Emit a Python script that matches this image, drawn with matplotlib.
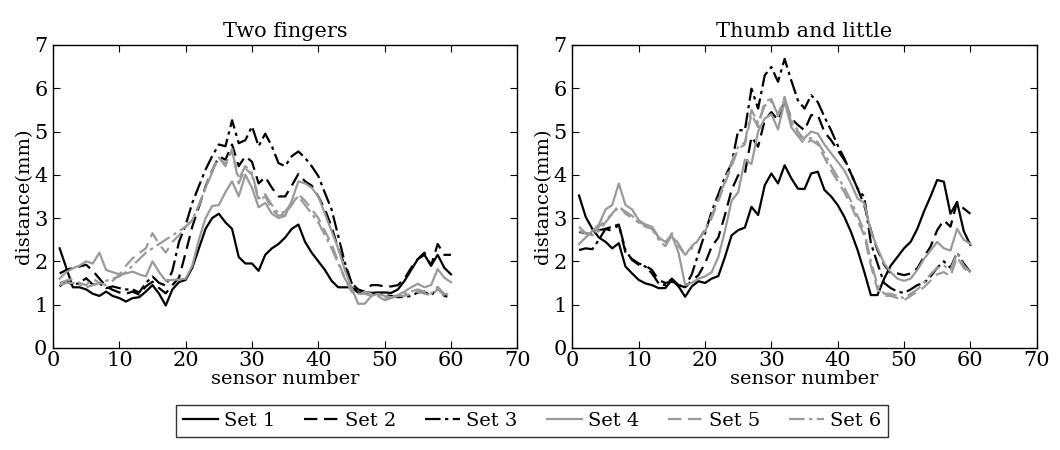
import numpy as np
import matplotlib
matplotlib.use('Agg')
import matplotlib.pyplot as plt

plt.rcParams['font.family'] = ['DejaVu Serif']
plt.rcParams['mathtext.fontset'] = 'dejavuserif'

sensor = np.arange(1, 61)

# Two fingers
two_set1 = [2.3, 1.85, 1.4, 1.4, 1.35, 1.25, 1.2, 1.3, 1.2, 1.15, 1.07, 1.15, 1.17, 1.3, 1.45, 1.25, 0.98, 1.35, 1.52, 1.57,
            1.85, 2.3, 2.75, 3.0, 3.1, 2.9, 2.75, 2.1, 1.95, 1.95, 1.78, 2.15, 2.3, 2.4, 2.55, 2.75, 2.85, 2.45, 2.2, 2.0,
            1.8, 1.55, 1.4, 1.4, 1.4, 1.28, 1.27, 1.27, 1.28, 1.28, 1.27, 1.35, 1.55, 1.8, 2.05, 2.15, 1.9, 2.15, 1.85, 1.7]
two_set2 = [1.72, 1.8, 1.85, 1.88, 1.92, 1.78, 1.6, 1.42, 1.34, 1.28, 1.25, 1.3, 1.23, 1.42, 1.53, 1.38, 1.26, 1.45, 1.62, 2.2,
            2.8, 3.26, 3.73, 4.1, 4.42, 4.35, 4.7, 4.2, 4.43, 4.3, 3.8, 3.95, 3.7, 3.5, 3.5, 3.75, 4.02, 3.85, 3.75, 3.5,
            3.2, 2.8, 2.3, 1.9, 1.5, 1.35, 1.3, 1.45, 1.45, 1.42, 1.42, 1.45, 1.6, 1.85, 2.05, 2.2, 1.9, 2.4, 2.15, 2.15]
two_set3 = [1.42, 1.55, 1.45, 1.5, 1.61, 1.46, 1.49, 1.38, 1.42, 1.38, 1.35, 1.35, 1.28, 1.5, 1.65, 1.5, 1.44, 1.78, 2.45, 2.84,
            3.35, 3.74, 4.12, 4.43, 4.7, 4.66, 5.26, 4.73, 4.8, 5.12, 4.66, 4.95, 4.66, 4.27, 4.2, 4.43, 4.54, 4.39, 4.2, 3.97,
            3.58, 3.2, 2.59, 1.97, 1.51, 1.28, 1.28, 1.27, 1.25, 1.22, 1.2, 1.17, 1.18, 1.2, 1.28, 1.3, 1.2, 1.4, 1.2, 1.17]
two_set4 = [1.6, 1.75, 1.84, 1.9, 2.0, 1.95, 2.2, 1.8, 1.75, 1.7, 1.72, 1.76, 1.7, 1.65, 2.0, 1.75, 1.55, 1.57, 1.58, 1.6,
            1.9, 2.5, 3.0, 3.28, 3.3, 3.6, 3.85, 3.5, 4.0, 3.7, 3.25, 3.35, 3.1, 3.0, 3.05, 3.4, 3.85, 3.8, 3.7, 3.5,
            3.1, 2.7, 2.3, 1.8, 1.4, 1.02, 1.02, 1.2, 1.25, 1.2, 1.17, 1.22, 1.3, 1.4, 1.48, 1.4, 1.45, 1.82, 1.62, 1.52]
two_set5 = [1.5, 1.55, 1.6, 1.5, 1.45, 1.6, 1.5, 1.45, 1.55, 1.69, 1.9, 2.07, 2.19, 2.3, 2.65, 2.4, 2.2, 2.45, 2.6, 2.8,
            2.95, 3.3, 3.7, 4.1, 4.4, 4.2, 4.6, 3.8, 4.15, 4.0, 3.4, 3.5, 3.2, 3.05, 3.1, 3.3, 3.55, 3.4, 3.2, 3.0,
            2.7, 2.4, 2.0, 1.6, 1.3, 1.2, 1.3, 1.25, 1.2, 1.1, 1.15, 1.2, 1.2, 1.25, 1.3, 1.25, 1.22, 1.35, 1.22, 1.22]
two_set6 = [1.45, 1.5, 1.5, 1.45, 1.4, 1.45, 1.5, 1.55, 1.6, 1.65, 1.75, 1.9, 2.05, 2.2, 2.3, 2.4, 2.5, 2.6, 2.7, 2.8,
            2.95, 3.3, 3.7, 4.05, 4.4, 4.25, 4.55, 3.9, 4.2, 4.05, 3.45, 3.55, 3.3, 3.1, 3.15, 3.35, 3.5, 3.3, 3.1, 2.9,
            2.6, 2.3, 1.95, 1.6, 1.35, 1.25, 1.25, 1.2, 1.2, 1.15, 1.15, 1.2, 1.25, 1.3, 1.35, 1.3, 1.25, 1.4, 1.25, 1.22]

# Thumb and little
thumb_set1 = [3.52, 3.03, 2.75, 2.55, 2.45, 2.3, 2.42, 1.88, 1.72, 1.57, 1.49, 1.45, 1.38, 1.38, 1.57, 1.42, 1.18, 1.42, 1.54, 1.5,
              1.6, 1.66, 2.1, 2.6, 2.72, 2.78, 3.26, 3.07, 3.76, 4.03, 3.8, 4.22, 3.92, 3.68, 3.67, 4.03, 4.07, 3.65, 3.5, 3.3,
              3.03, 2.68, 2.26, 1.76, 1.22, 1.22, 1.6, 1.9, 2.1, 2.3, 2.45, 2.75, 3.15, 3.5, 3.88, 3.84, 3.1, 3.37, 2.7, 2.38]
thumb_set2 = [2.68, 2.65, 2.62, 2.72, 2.75, 2.7, 2.85, 2.2, 2.05, 1.95, 1.9, 1.8, 1.57, 1.5, 1.53, 1.45, 1.4, 1.55, 1.68, 1.95,
              2.34, 2.55, 3.07, 3.65, 3.99, 4.03, 4.88, 4.65, 5.26, 5.45, 5.26, 5.72, 5.3, 5.15, 5.03, 5.38, 5.38, 4.99, 4.8, 4.57,
              4.34, 4.03, 3.68, 3.3, 2.72, 2.26, 1.92, 1.72, 1.72, 1.68, 1.72, 1.84, 2.1, 2.34, 2.72, 2.95, 2.8, 3.37, 3.22, 3.1]
thumb_set3 = [2.26, 2.3, 2.28, 2.5, 2.75, 2.8, 2.85, 2.26, 2.03, 1.92, 1.88, 1.72, 1.49, 1.45, 1.6, 1.45, 1.42, 1.7, 2.18, 2.65,
              3.15, 3.55, 3.95, 4.26, 5.03, 5.03, 5.99, 5.53, 6.3, 6.49, 6.15, 6.68, 6.18, 5.72, 5.53, 5.84, 5.68, 5.34, 5.03, 4.68,
              4.38, 4.03, 3.68, 3.49, 2.42, 1.95, 1.5, 1.38, 1.3, 1.27, 1.35, 1.45, 1.5, 1.65, 1.85, 2.0, 1.85, 2.2, 1.95, 1.75]
thumb_set4 = [2.4, 2.55, 2.7, 2.85, 3.2, 3.3, 3.8, 3.3, 3.2, 2.95, 2.85, 2.8, 2.55, 2.45, 2.6, 2.2, 1.45, 1.5, 1.6, 1.65,
              1.75, 2.1, 2.7, 3.4, 3.6, 4.35, 4.25, 5.0, 5.3, 5.4, 5.05, 5.7, 5.1, 4.9, 4.85, 5.0, 4.95, 4.7, 4.5, 4.3,
              4.1, 3.8, 3.45, 3.35, 2.7, 2.3, 1.95, 1.75, 1.6, 1.55, 1.6, 1.8, 2.05, 2.25, 2.45, 2.3, 2.25, 2.75, 2.5, 2.4]
thumb_set5 = [2.8, 2.65, 2.6, 2.8, 2.95, 3.1, 3.3, 3.1, 3.0, 2.9, 2.85, 2.8, 2.55, 2.4, 2.65, 2.4, 2.15, 2.35, 2.5, 2.7,
              3.0, 3.4, 3.8, 4.2, 4.6, 4.7, 5.4, 5.1, 5.7, 5.75, 5.35, 5.8, 5.2, 4.9, 4.7, 4.8, 4.7, 4.4, 4.1, 3.85,
              3.6, 3.3, 2.95, 2.6, 1.9, 1.35, 1.2, 1.2, 1.15, 1.1, 1.2, 1.3, 1.4, 1.55, 1.7, 1.75, 1.65, 2.1, 1.85, 1.7]
thumb_set6 = [2.7, 2.65, 2.6, 2.7, 2.9, 3.1, 3.25, 3.15, 3.05, 2.9, 2.8, 2.75, 2.5, 2.35, 2.6, 2.35, 2.15, 2.3, 2.5, 2.75,
              3.05, 3.45, 3.85, 4.3, 4.65, 4.75, 5.5, 5.2, 5.6, 5.7, 5.4, 5.75, 5.3, 5.0, 4.8, 4.85, 4.75, 4.5, 4.2, 3.95,
              3.7, 3.4, 3.05, 2.7, 2.0, 1.45, 1.25, 1.25, 1.2, 1.15, 1.25, 1.35, 1.5, 1.7, 1.85, 1.9, 1.8, 2.2, 1.9, 1.75]

titles = ['Two fingers', 'Thumb and little']
labels = ['Set 1', 'Set 2', 'Set 3', 'Set 4', 'Set 5', 'Set 6']
panels = [[two_set1, two_set2, two_set3, two_set4, two_set5, two_set6],
          [thumb_set1, thumb_set2, thumb_set3, thumb_set4, thumb_set5, thumb_set6]]

grey = '#9a9a9a'
styles = [('k', '-'), ('k', (0, (6, 3))), ('k', (0, (7, 2, 1.5, 2))),
          (grey, '-'), (grey, (0, (6, 3))), (grey, (0, (7, 2, 1.5, 2)))]

fig = plt.figure(figsize=(10.6, 4.5), dpi=100)
axes = [fig.add_axes([0.05, 0.227, 0.438, 0.673]),
        fig.add_axes([0.54, 0.227, 0.438, 0.673])]

for ax, title, series in zip(axes, titles, panels):
    for vals, lab, (c, ls) in zip(series, labels, styles):
        ax.plot(sensor, vals, color=c, linestyle=ls, linewidth=1.6, label=lab)
    ax.set_xlim(0, 70)
    ax.set_ylim(0, 7)
    ax.set_xticks(range(0, 71, 10))
    ax.set_yticks(range(0, 8))
    ax.tick_params(direction='in', top=True, right=True, labelsize=15, length=5)
    ax.tick_params(axis='x', pad=2)
    ax.tick_params(axis='y', pad=4)
    ax.set_title(title, fontsize=15, pad=6)
    ax.set_xlabel('sensor number', fontsize=14, labelpad=0)
    ax.set_ylabel('distance(mm)', fontsize=14, labelpad=1)
    for s in ax.spines.values():
        s.set_linewidth(1.0)

handles, labs = axes[0].get_legend_handles_labels()
leg = fig.legend(handles, labs, loc='upper center', bbox_to_anchor=(0.502, 0.1), ncol=6,
                 fontsize=14, frameon=True, fancybox=False, handlelength=1.8, handletextpad=0.3,
                 columnspacing=1.5, borderpad=0.35, borderaxespad=0)
leg.get_frame().set_edgecolor('k')
leg.get_frame().set_linewidth(1.0)

fig.savefig('out.png', dpi=100)
